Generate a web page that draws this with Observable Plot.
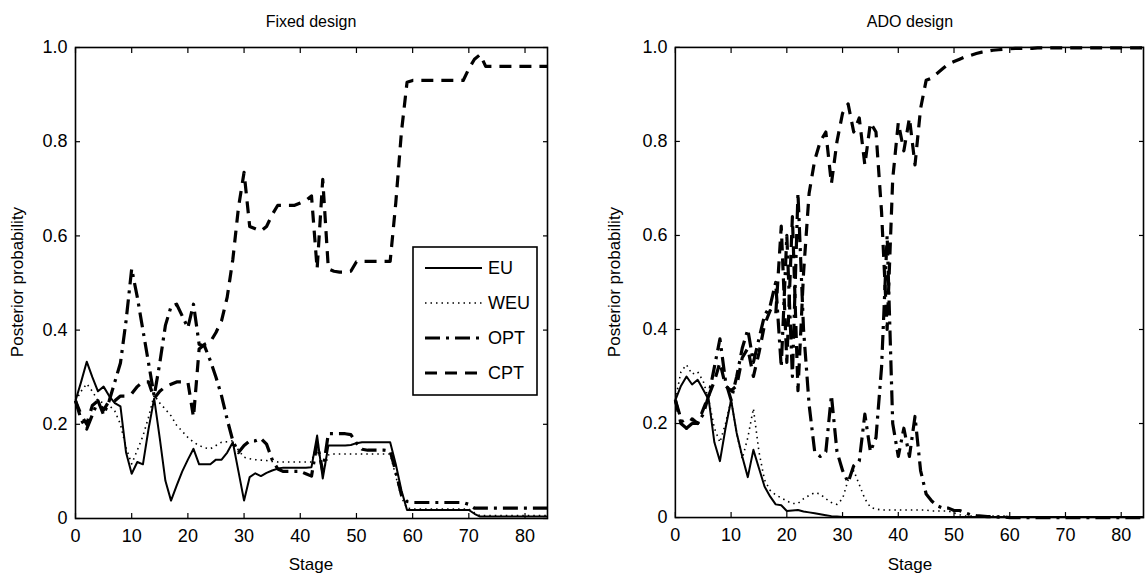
<!DOCTYPE html>
<html><head><meta charset="utf-8">
<script src="https://cdn.jsdelivr.net/npm/d3@7"></script>
<script src="https://cdn.jsdelivr.net/npm/@observablehq/plot@0.6"></script>
<style>
body{margin:0;background:#fff;}
#wrap{position:relative;width:1145px;height:578px;overflow:hidden;font-family:"Liberation Sans",Arial,sans-serif;color:#000;}
.abs{position:absolute;}
.lbl{position:absolute;font-size:16px;white-space:nowrap;transform:translate(-50%,-50%);}
.xl{font-size:17px;}
.rot{transform:translate(-50%,-50%) rotate(-90deg);font-size:17px;}
</style></head><body><div id="wrap">
<div id="left" class="abs" style="left:0;top:0"></div>
<div id="right" class="abs" style="left:600px;top:0"></div>
</div>
<script>
const stages = d3.range(0, 85);
const seriesNames = ["EU", "WEU", "OPT", "CPT"];
const xTicks = [0, 10, 20, 30, 40, 50, 60, 70, 80];
const yTicks = [0, 0.2, 0.4, 0.6, 0.8, 1.0];
const panelTitles = ["Fixed design", "ADO design"];
const xLabel = "Stage";
const yLabel = "Posterior probability";

// Fixed design
const fixedEU = [0.25,0.29,0.333,0.30,0.27,0.28,0.26,0.245,0.238,0.14,0.095,0.12,0.115,0.19,0.255,0.17,0.08,0.038,0.07,0.10,0.125,0.148,0.115,0.115,0.115,0.125,0.125,0.14,0.162,0.10,0.038,0.088,0.096,0.09,0.097,0.102,0.106,0.108,0.108,0.108,0.108,0.108,0.109,0.176,0.085,0.155,0.155,0.155,0.155,0.156,0.16,0.162,0.162,0.162,0.162,0.162,0.162,0.115,0.06,0.018,0.018,0.018,0.018,0.018,0.018,0.018,0.018,0.018,0.018,0.018,0.018,0.01,0.004,0.004,0.004,0.004,0.004,0.004,0.004,0.004,0.004,0.004,0.004,0.004,0.004];
const fixedWEU = [0.25,0.27,0.286,0.27,0.25,0.245,0.24,0.228,0.20,0.15,0.116,0.145,0.175,0.215,0.262,0.245,0.232,0.218,0.198,0.185,0.172,0.162,0.155,0.15,0.148,0.155,0.162,0.163,0.165,0.145,0.13,0.127,0.125,0.124,0.123,0.121,0.12,0.12,0.12,0.12,0.12,0.12,0.12,0.16,0.095,0.135,0.137,0.137,0.137,0.137,0.137,0.137,0.137,0.137,0.137,0.137,0.137,0.09,0.045,0.022,0.02,0.02,0.02,0.02,0.02,0.02,0.02,0.02,0.02,0.02,0.02,0.012,0.006,0.006,0.006,0.006,0.006,0.006,0.006,0.006,0.006,0.006,0.006,0.006,0.006];
const fixedOPT = [0.25,0.21,0.19,0.22,0.25,0.22,0.25,0.29,0.33,0.42,0.53,0.47,0.40,0.33,0.26,0.33,0.41,0.45,0.455,0.43,0.405,0.455,0.37,0.365,0.335,0.30,0.26,0.21,0.165,0.14,0.155,0.165,0.165,0.17,0.158,0.125,0.105,0.1,0.1,0.1,0.1,0.095,0.09,0.16,0.1,0.18,0.18,0.18,0.18,0.178,0.16,0.147,0.145,0.145,0.145,0.145,0.143,0.1,0.05,0.036,0.034,0.034,0.034,0.034,0.034,0.034,0.034,0.034,0.034,0.034,0.03,0.022,0.022,0.022,0.022,0.022,0.022,0.022,0.022,0.022,0.022,0.022,0.022,0.022,0.022];
const fixedCPT = [0.25,0.22,0.20,0.24,0.25,0.23,0.25,0.25,0.26,0.26,0.265,0.28,0.29,0.29,0.255,0.27,0.28,0.285,0.29,0.29,0.29,0.215,0.36,0.37,0.375,0.395,0.42,0.47,0.55,0.66,0.735,0.62,0.615,0.61,0.62,0.645,0.665,0.665,0.665,0.665,0.67,0.675,0.685,0.53,0.72,0.53,0.525,0.523,0.523,0.525,0.545,0.546,0.546,0.546,0.546,0.546,0.546,0.67,0.82,0.926,0.93,0.93,0.93,0.93,0.93,0.93,0.93,0.93,0.93,0.93,0.955,0.975,0.985,0.96,0.96,0.96,0.96,0.96,0.96,0.96,0.96,0.96,0.96,0.96,0.96];

// ADO design
const adoEU = [0.25,0.28,0.30,0.283,0.293,0.272,0.25,0.16,0.12,0.19,0.25,0.18,0.13,0.086,0.144,0.105,0.066,0.045,0.028,0.026,0.014,0.015,0.016,0.013,0.011,0.009,0.007,0.005,0.003,0.002,0.001,0.001,0.001,0.001,0.001,0.001,0.001,0.001,0.001,0.001,0.001,0.001,0.001,0.001,0.001,0.001,0.001,0.001,0.001,0.001,0.001,0.001,0.001,0.001,0.001,0.001,0.001,0.001,0.001,0.001,0.001,0.001,0.001,0.001,0.001,0.001,0.001,0.001,0.001,0.001,0.001,0.001,0.001,0.001,0.001,0.001,0.001,0.001,0.001,0.001,0.001,0.001,0.001,0.001,0.001];
const adoWEU = [0.25,0.31,0.325,0.305,0.31,0.29,0.25,0.19,0.16,0.2,0.25,0.18,0.125,0.17,0.232,0.14,0.08,0.058,0.048,0.042,0.035,0.03,0.03,0.04,0.047,0.053,0.05,0.04,0.032,0.028,0.04,0.08,0.1,0.07,0.04,0.022,0.018,0.016,0.016,0.016,0.016,0.016,0.016,0.016,0.016,0.016,0.014,0.014,0.014,0.014,0.01,0.006,0.003,0.003,0.003,0.003,0.003,0.003,0.003,0.003,0.001,0.001,0.001,0.001,0.001,0.001,0.001,0.001,0.001,0.001,0.001,0.001,0.001,0.001,0.001,0.001,0.001,0.001,0.001,0.001,0.001,0.001,0.001,0.001,0.001];
const adoOPT = [0.25,0.21,0.19,0.2,0.2,0.22,0.26,0.32,0.38,0.29,0.25,0.30,0.36,0.40,0.33,0.38,0.43,0.45,0.50,0.32,0.60,0.30,0.69,0.40,0.24,0.14,0.13,0.14,0.26,0.14,0.10,0.075,0.11,0.12,0.22,0.14,0.17,0.32,0.6,0.2,0.13,0.19,0.13,0.215,0.1,0.05,0.035,0.025,0.02,0.02,0.015,0.015,0.01,0.006,0.004,0.003,0.002,0.002,0.001,0.001,0,0,0,0,0,0,0,0,0,0,0,0,0,0,0,0,0,0,0,0,0,0,0,0,0];
const adoCPT = [0.25,0.20,0.19,0.21,0.20,0.23,0.26,0.29,0.33,0.28,0.27,0.28,0.34,0.36,0.30,0.35,0.41,0.44,0.43,0.62,0.33,0.64,0.27,0.52,0.69,0.76,0.80,0.82,0.71,0.80,0.86,0.88,0.82,0.85,0.75,0.84,0.82,0.65,0.40,0.72,0.84,0.78,0.85,0.75,0.87,0.93,0.935,0.945,0.955,0.965,0.97,0.975,0.98,0.983,0.987,0.99,0.992,0.994,0.995,0.996,0.997,0.998,0.998,0.998,0.998,0.999,0.999,0.999,0.999,0.999,0.999,0.999,0.999,0.999,0.999,0.999,0.999,0.999,0.999,0.999,0.999,0.999,0.999,0.999,0.999];

const styles = {
  EU:  {sw: 2,   dash: null},
  WEU: {sw: 1.6, dash: "1.5,4"},
  OPT: {sw: 3.2, dash: "15,6,3,6"},
  CPT: {sw: 3.2, dash: "12,8"}
};
const FONT = "'Liberation Sans', Arial, sans-serif";

function makePanel(series, width, marginRight) {
  const marks = seriesNames.map(s => Plot.line(
    stages.map((st, i) => ({stage: st, p: series[s][i]})),
    {x: "stage", y: "p", stroke: "black", strokeWidth: styles[s].sw,
     strokeDasharray: styles[s].dash, strokeLinejoin: "round", strokeLinecap: "butt"}));
  return Plot.plot({
    width, height: 578,
    marginLeft: 75, marginRight, marginTop: 47, marginBottom: 60,
    style: {fontFamily: FONT, fontSize: "18px", color: "black", background: "white"},
    x: {domain: [0, 84]},
    y: {domain: [0, 1]},
    marks: [
      ...marks,
      Plot.axisX(xTicks, {anchor: "bottom", tickSize: -5, tickFormat: () => "", label: null, strokeWidth: 1.2}),
      Plot.axisX(xTicks, {anchor: "top", tickSize: -5, tickFormat: () => "", label: null, strokeWidth: 1.2}),
      Plot.axisY(yTicks, {anchor: "left", tickSize: -5, tickFormat: () => "", label: null, strokeWidth: 1.2}),
      Plot.axisY(yTicks, {anchor: "right", tickSize: -5, tickFormat: () => "", label: null, strokeWidth: 1.2}),
      Plot.axisX(xTicks, {anchor: "bottom", tickSize: 0, tickPadding: 11, fontSize: 18, tickFormat: d => String(d), label: null}),
      Plot.axisY(yTicks, {anchor: "left", tickSize: 0, tickPadding: 8, fontSize: 18, tickFormat: d => d === 0 ? "0" : d.toFixed(1), label: null}),
      Plot.frame({stroke: "black", strokeWidth: 1.6})
    ]
  });
}

document.getElementById("left").appendChild(makePanel({EU: fixedEU, WEU: fixedWEU, OPT: fixedOPT, CPT: fixedCPT}, 572, 25));
document.getElementById("right").appendChild(makePanel({EU: adoEU, WEU: adoWEU, OPT: adoOPT, CPT: adoCPT}, 546, 2));

// Titles and axis labels
const wrap = document.getElementById("wrap");
function addLabel(text, x, y, cls) {
  const d = document.createElement("div");
  d.className = "lbl" + (cls ? " " + cls : "");
  d.style.left = x + "px"; d.style.top = y + "px";
  d.textContent = text;
  wrap.appendChild(d);
}
addLabel(panelTitles[0], 311, 22);
addLabel(panelTitles[1], 910, 22);
addLabel(xLabel, 311, 565, "xl");
addLabel(xLabel, 910, 565, "xl");
addLabel(yLabel, 18, 282, "rot");
addLabel(yLabel, 615, 282, "rot");

// Legend
const leg = d3.select(wrap).append("svg").attr("class", "abs")
  .style("left", "405px").style("top", "240px")
  .attr("width", 140).attr("height", 165);
leg.append("rect").attr("x", 8).attr("y", 7).attr("width", 124).attr("height", 148)
  .attr("fill", "white").attr("stroke", "black").attr("stroke-width", 1.6);
seriesNames.forEach((s, i) => {
  const y = 28 + i * 35;
  leg.append("line").attr("x1", 20).attr("x2", 77).attr("y1", y).attr("y2", y)
    .attr("stroke", "black").attr("stroke-width", styles[s].sw)
    .attr("stroke-dasharray", styles[s].dash);
  leg.append("text").attr("x", 83).attr("y", y).attr("dy", "0.35em")
    .attr("font-family", FONT).attr("font-size", 18)
    .text(s);
});
</script>
</body></html>
